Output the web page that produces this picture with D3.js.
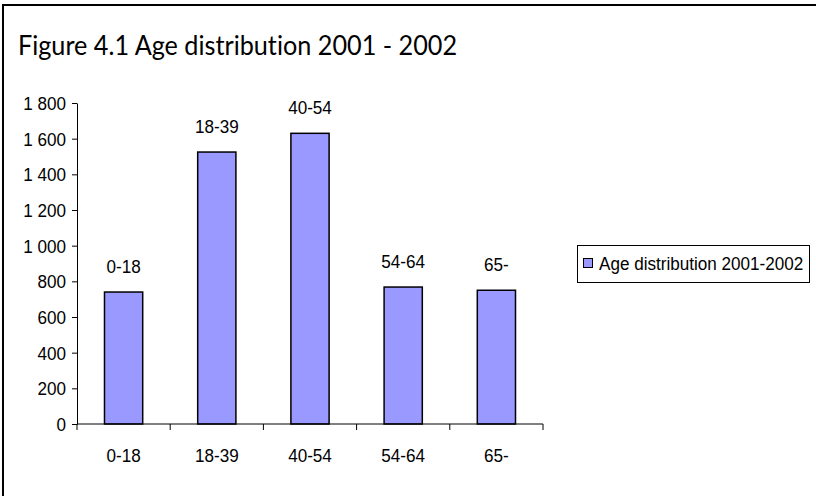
<!DOCTYPE html>
<html>
<head>
<meta charset="utf-8">
<script src="https://cdn.jsdelivr.net/npm/d3@7"></script>
<style>
  body { margin: 0; background: #fff; }
  svg text { font-family: "Liberation Sans", Arial, sans-serif; fill: #000; }
</style>
</head>
<body>
<div id="chart"></div>
<script>
const categories = ['0-18', '18-39', '40-54', '54-64', '65-'];
const values = [740, 1525, 1630, 768, 750];
const yTicks = [0, 200, 400, 600, 800, 1000, 1200, 1400, 1600, 1800];
const seriesName = 'Age distribution 2001-2002';
const title = 'Figure 4.1 Age distribution 2001 - 2002';

const width = 816, height = 496;
const plot = { left: 77, right: 543, top: 103, bottom: 424 };
const fontSize = 19, squeeze = 0.9; // label font is a bit narrow in the original

const svg = d3.select('#chart')
    .append('svg')
    .attr('width', width)
    .attr('height', height);

// put a narrow-looking text at (x, y)
function label(sel, x, y, txt, anchor) {
    return sel.append('text')
        .attr('transform', `translate(${x},${y}) scale(${squeeze},1)`)
        .attr('text-anchor', anchor || 'start')
        .style('font-size', fontSize + 'px')
        .text(txt);
}

// frame: top and left edges only
svg.append('path')
    .attr('d', `M3,${height} L3,5 L${width},5`)
    .attr('fill', 'none')
    .attr('stroke', '#000')
    .attr('stroke-width', 2);

svg.append('text')
    .attr('x', 18)
    .attr('y', 55)
    .attr('textLength', 439)
    .attr('lengthAdjust', 'spacingAndGlyphs')
    .style('font-family', 'Lato, "Open Sans", sans-serif')
    .style('font-size', '27px')
    .style('font-variant-ligatures', 'none')
    .text(title);

const x = d3.scaleBand()
    .domain(categories)
    .range([plot.left, plot.right])
    .paddingInner(0.59)
    .paddingOuter(0.295);

const y = d3.scaleLinear()
    .domain([0, 1800])
    .range([plot.bottom, plot.top]);

const fmt = d => d3.format(',')(d).replace(',', ' ');

// y axis
const yAxis = svg.append('g')
    .attr('transform', `translate(${plot.left},0)`)
    .call(d3.axisLeft(y).tickValues(yTicks).tickSize(5).tickSizeOuter(0).tickFormat(fmt));
yAxis.select('.domain').attr('stroke', '#000');
yAxis.selectAll('.tick line').attr('stroke', '#000');
yAxis.selectAll('.tick text')
    .attr('x', -11 / squeeze)
    .attr('dy', '0.35em')
    .attr('transform', `scale(${squeeze},1)`)
    .style('font-size', fontSize + 'px')
    .style('font-family', '"Liberation Sans", Arial, sans-serif');

// bars
svg.append('g')
    .selectAll('rect')
    .data(values)
    .join('rect')
    .attr('x', (d, i) => x(categories[i]))
    .attr('y', d => y(d))
    .attr('width', x.bandwidth())
    .attr('height', d => y(0) - y(d))
    .attr('fill', '#9999ff')
    .attr('stroke', '#000')
    .attr('stroke-width', 1.5);

// category names above the bars
const barLabels = svg.append('g');
values.forEach((v, i) => {
    label(barLabels, x(categories[i]) + x.bandwidth() / 2, y(v) - 19, categories[i], 'middle');
});

// x axis: ticks between categories
const step = x.step();
const boundaries = d3.range(categories.length + 1).map(i => plot.left + i * step);
const xAxis = svg.append('g');
xAxis.append('line')
    .attr('x1', plot.left).attr('x2', plot.right)
    .attr('y1', plot.bottom).attr('y2', plot.bottom)
    .attr('stroke', '#000');
xAxis.selectAll('.xt')
    .data(boundaries)
    .join('line')
    .attr('class', 'xt')
    .attr('x1', d => d).attr('x2', d => d)
    .attr('y1', plot.bottom).attr('y2', plot.bottom + 6)
    .attr('stroke', '#000');
categories.forEach(c => {
    label(xAxis, x(c) + x.bandwidth() / 2, 462, c, 'middle');
});

// legend
const legend = svg.append('g');
legend.append('rect')
    .attr('x', 577.5).attr('y', 245.5)
    .attr('width', 232).attr('height', 37)
    .attr('fill', '#fff')
    .attr('stroke', '#000');
legend.append('rect')
    .attr('x', 583.5).attr('y', 258.5)
    .attr('width', 9).attr('height', 9)
    .attr('fill', '#9999ff')
    .attr('stroke', '#000');
label(legend, 599, 270, seriesName);
</script>
</body>
</html>
